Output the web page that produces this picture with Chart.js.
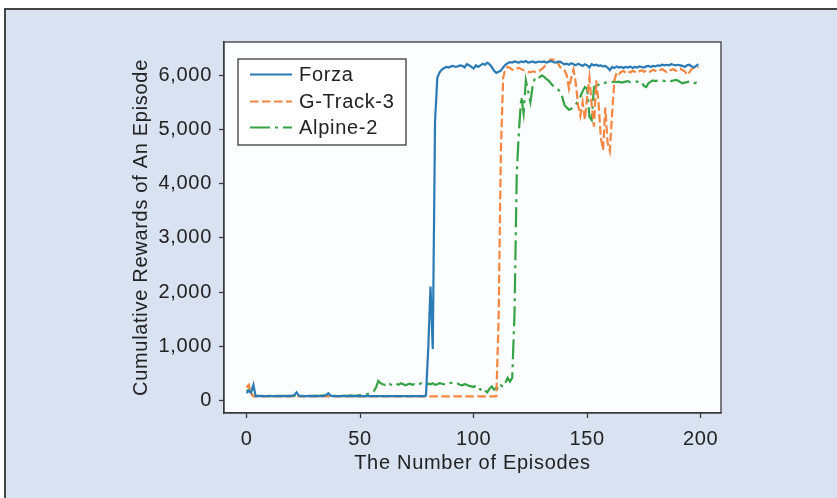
<!DOCTYPE html>
<html>
<head>
<meta charset="utf-8">
<script src="https://cdn.jsdelivr.net/npm/chart.js@4.4.1/dist/chart.umd.min.js"></script>
<style>
  html, body { margin: 0; padding: 0; background: #ffffff; }
  #wrap { width: 837px; height: 498px; position: relative; }
</style>
</head>
<body>
<div id="wrap"><canvas id="c" width="837" height="498"></canvas></div>
<script>
// Episode index (x axis)
const episodes = Array.from({ length: 200 }, (_, i) => i);

// Cumulative reward per episode for each environment
const forza = [
  140,180,150,290,80,80,80,80,80,80,
  80,80,80,80,80,80,80,80,80,80,
  85,100,150,90,80,80,80,80,80,80,
  80,80,80,80,85,100,135,90,80,80,
  80,80,80,80,80,80,80,80,80,80,
  80,80,80,80,80,80,80,80,80,80,
  80,80,80,80,80,80,80,80,80,80,
  80,80,80,80,80,80,80,80,80,90,
  950,2100,950,5150,5950,6050,6100,6130,6150,6140,
  6160,6170,6150,6160,6180,6170,6140,6200,6180,6150,
  6120,6180,6150,6180,6210,6190,6230,6200,6150,6080,
  6040,6060,6080,6140,6190,6220,6240,6230,6250,6240,
  6230,6250,6240,6260,6230,6240,6250,6230,6240,6250,
  6240,6250,6230,6240,6260,6240,6230,6240,6250,6220,
  6200,6210,6190,6220,6200,6180,6210,6190,6170,6200,
  6180,6140,6200,6180,6190,6170,6180,6160,6170,6140,
  6090,6150,6130,6160,6140,6150,6130,6150,6140,6160,
  6130,6150,6140,6160,6150,6140,6160,6170,6150,6170,
  6160,6180,6170,6190,6180,6190,6180,6200,6190,6180,
  6190,6180,6170,6150,6180,6190,6160,6140,6170,6200
];

const gTrack3 = [
  240,290,130,80,75,75,75,75,75,75,
  75,75,75,75,75,75,75,75,75,75,
  75,75,75,75,75,75,75,75,75,75,
  75,75,75,75,75,75,75,75,75,75,
  75,75,75,75,75,75,75,75,75,75,
  75,75,75,75,75,75,75,75,75,75,
  75,75,75,75,75,75,75,75,75,75,
  75,75,75,75,75,75,75,75,75,75,
  75,75,75,75,75,75,75,75,75,75,
  75,75,75,75,75,75,75,75,75,75,
  75,75,75,75,75,75,75,75,75,75,
  80,1500,4600,5950,6120,6150,6130,6100,6090,6120,
  6130,6110,6090,6070,6060,6050,6070,6060,6060,6080,
  6110,6150,6200,6250,6290,6280,6300,6240,6150,6130,
  6090,6000,5750,5950,6100,5850,5450,5250,5500,5180,
  5600,5950,5450,5050,5900,5500,4850,4620,5400,4750,
  4600,5300,5900,6050,6020,6060,6080,6040,6070,6050,
  6080,6060,6040,6070,6090,6060,6080,6050,6070,6100,
  6080,6060,6090,6110,6080,6060,6100,6090,6110,6080,
  6100,6120,6090,6070,6000,6050,6110,6130,6120,6150
];

const alpine2 = [
  170,200,130,80,85,85,85,85,85,85,
  85,85,85,85,85,85,85,85,85,85,
  85,85,85,90,85,85,90,95,85,85,
  90,85,85,90,95,90,85,85,90,85,
  85,90,85,90,85,90,95,85,90,95,
  100,105,110,120,125,140,170,240,360,320,
  300,290,330,310,280,300,310,290,320,300,
  280,300,310,290,300,280,300,320,300,290,
  310,300,320,290,300,320,310,300,290,300,
  330,320,300,310,290,280,300,290,270,260,
  250,280,230,200,230,180,150,220,260,200,
  240,200,280,250,330,420,350,420,1600,4200,
  5000,5600,5300,5900,5700,5500,5800,5950,5980,5960,
  5990,5970,5930,5900,5850,5800,5780,5740,5700,5600,
  5450,5400,5360,5380,5420,5460,5520,5600,5700,5780,
  5750,5230,5170,5780,5800,5820,5850,5840,5860,5870,
  5860,5870,5880,5870,5880,5860,5870,5880,5890,5870,
  5880,5890,5880,5860,5870,5800,5780,5850,5880,5900,
  5890,5900,5910,5900,5890,5900,5910,5890,5900,5910,
  5900,5870,5850,5860,5870,5880,5860,5850,5860,5850
];

const xTickValues = [0, 50, 100, 150, 200];
const yTickValues = [0, 1000, 2000, 3000, 4000, 5000, 6000];

const seriesNames = ['Forza', 'G-Track-3', 'Alpine-2'];
const seriesColors = ['#2a7ab6', '#f5853f', '#34a343'];
const seriesDashes = [[], [8.5, 3.5], [20, 5, 3, 5]];
const seriesValues = [forza, gTrack3, alpine2];

const FONT = '"Liberation Sans", Arial, Helvetica, sans-serif';
const FONT_SIZE = 20;
const TRACKING = '0.7px';
const INK = '#222222';
const SPINE = '#3a3a3a';

const toPoints = (vals) => vals.map((v, i) => ({ x: episodes[i], y: v }));

// Slightly open letter spacing for all canvas text
const trackingPlugin = {
  id: 'tracking',
  beforeLayout(chart) { chart.ctx.letterSpacing = TRACKING; },
  beforeDraw(chart) { chart.ctx.letterSpacing = TRACKING; }
};

// Panel background, outer frame, plot face, spines and legend
const panelPlugin = {
  id: 'panel',
  beforeDraw(chart) {
    const { ctx, chartArea: a } = chart;
    ctx.save();
    ctx.fillStyle = '#ffffff';
    ctx.fillRect(0, 0, chart.width, chart.height);
    ctx.fillStyle = '#d9e2f1';
    ctx.fillRect(4, 8, chart.width - 4, chart.height - 8);
    ctx.strokeStyle = '#444444';
    ctx.lineWidth = 2;
    ctx.beginPath();
    ctx.moveTo(5, chart.height);
    ctx.lineTo(5, 9);
    ctx.lineTo(chart.width, 9);
    ctx.stroke();
    ctx.fillStyle = '#fcfdfe';
    ctx.fillRect(a.left, a.top, a.right - a.left, a.bottom - a.top);
    ctx.restore();
  },
  afterDraw(chart) {
    const { ctx, chartArea: a } = chart;
    ctx.save();
    ctx.strokeStyle = SPINE;
    ctx.lineWidth = 1.3;
    ctx.strokeRect(a.left, a.top, a.right - a.left, a.bottom - a.top);

    // legend box
    const bx = 238, by = 59, bw = 168, bh = 86;
    ctx.fillStyle = '#ffffff';
    ctx.fillRect(bx, by, bw, bh);
    ctx.strokeStyle = '#3c3c3c';
    ctx.lineWidth = 1.3;
    ctx.strokeRect(bx, by, bw, bh);
    const rows = [74.5, 101.5, 127.5];
    ctx.font = FONT_SIZE + 'px ' + FONT;
    ctx.letterSpacing = TRACKING;
    ctx.textBaseline = 'middle';
    ctx.textAlign = 'left';
    seriesNames.forEach((name, i) => {
      ctx.strokeStyle = seriesColors[i];
      ctx.lineWidth = 2.2;
      ctx.setLineDash(seriesDashes[i]);
      ctx.beginPath();
      ctx.moveTo(250, rows[i]);
      ctx.lineTo(292, rows[i]);
      ctx.stroke();
      ctx.setLineDash([]);
      ctx.fillStyle = INK;
      ctx.fillText(name, 299, rows[i] + 1);
    });
    ctx.restore();
  }
};

new Chart(document.getElementById('c'), {
  type: 'line',
  data: {
    datasets: seriesNames.map((name, i) => ({
      label: name,
      data: toPoints(seriesValues[i]),
      borderColor: seriesColors[i],
      borderWidth: 2.2,
      borderDash: seriesDashes[i],
      pointRadius: 0,
      tension: 0,
      fill: false
    }))
  },
  options: {
    responsive: false,
    animation: false,
    devicePixelRatio: 1,
    layout: { padding: { left: 0, right: 116, top: 42, bottom: 0 } },
    plugins: { legend: { display: false }, tooltip: { enabled: false } },
    scales: {
      x: {
        type: 'linear',
        min: -9.95,
        max: 208.95,
        afterFit(s) { s.height = 85; },
        afterBuildTicks(s) { s.ticks = xTickValues.map(v => ({ value: v })); },
        grid: { drawOnChartArea: false, drawTicks: true, tickLength: 5, color: SPINE, tickWidth: 1.3 },
        border: { display: true, color: SPINE, width: 1.3 },
        ticks: { color: INK, font: { family: FONT, size: FONT_SIZE }, padding: 9.5, maxRotation: 0, autoSkip: false },
        title: { display: true, text: 'The Number of Episodes', color: INK,
                 font: { family: FONT, size: FONT_SIZE }, padding: { top: 0, bottom: 23 } }
      },
      y: {
        type: 'linear',
        min: -230,
        max: 6610,
        afterFit(s) { s.width = 224; },
        afterBuildTicks(s) { s.ticks = yTickValues.map(v => ({ value: v })); },
        grid: { drawOnChartArea: false, drawTicks: true, tickLength: 5, color: SPINE, tickWidth: 1.3 },
        border: { display: true, color: SPINE, width: 1.3 },
        ticks: { color: INK, font: { family: FONT, size: FONT_SIZE }, padding: 7,
                 callback: (v) => v.toLocaleString('en-US') },
        title: { display: true, text: 'Cumulative Rewards of An Episode', color: INK,
                 font: { family: FONT, size: FONT_SIZE }, padding: { top: 129, bottom: 0 } }
      }
    }
  },
  plugins: [trackingPlugin, panelPlugin]
});
</script>
</body>
</html>
